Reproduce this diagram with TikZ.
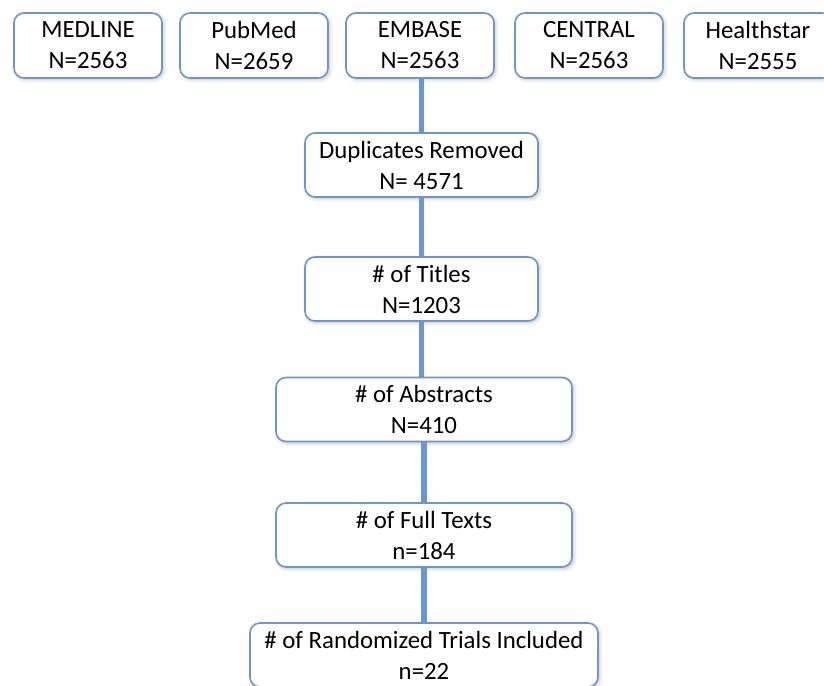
\documentclass[tikz,border=0pt]{standalone}
\usepackage{fontspec}
\setmainfont{Carlito}
\usepackage{tikz}
\usetikzlibrary{shadows.blur}
\definecolor{boxblue}{RGB}{110,150,200}
\definecolor{linkblue}{RGB}{104,152,208}
\tikzset{
  srcbox/.style={rectangle,rounded corners=5pt,draw=boxblue,line width=0.8pt,fill=white,
    minimum width=74pt,minimum height=32.5pt,align=center,inner sep=1pt,font=\fontsize{12.4}{15.5}\selectfont,
    blur shadow={shadow xshift=0.8pt,shadow yshift=-0.8pt,shadow blur steps=4,shadow opacity=25}},
  stepbox/.style={srcbox,minimum height=32pt},
  link/.style={line width=2.6pt,draw=linkblue}
}
\begin{document}
\begin{tikzpicture}[x=0.5pt,y=-0.5pt]
  \useasboundingbox (0,0) rectangle (824,685);
  \clip (0,0) rectangle (824,685);

  % databases
  \node[srcbox] (medline) at (88,45.5) {MEDLINE\\N=2563};
  \node[srcbox] (pubmed) at (254,45.5) {PubMed\\N=2659};
  \node[srcbox] (embase) at (420,45.5) {EMBASE\\N=2563};
  \node[srcbox] (central) at (589,45.5) {CENTRAL\\N=2563};
  \node[srcbox] (health) at (758,45.5) {Healthstar\\N=2555};

  % screening steps
  \node[stepbox,minimum width=116.5pt] (dups) at (421.5,165) {Duplicates Removed\\N= 4571};
  \node[stepbox,minimum width=116.5pt] (titles) at (421.5,289) {\# of Titles\\N=1203};
  \node[stepbox,minimum width=148pt] (abstr) at (424,409.5) {\# of Abstracts\\N=410};
  \node[stepbox,minimum width=148pt] (full) at (424,535) {\# of Full Texts\\n=184};
  \node[stepbox,minimum width=174pt] (incl) at (424,655) {\# of Randomized Trials Included\\n=22};

  \draw[link] (embase.south -| dups.north) -- (dups.north);
  \draw[link] (dups) -- (titles);
  \draw[link] (titles) -- (titles |- abstr.north);
  \draw[link] (abstr) -- (full);
  \draw[link] (full) -- (incl);
\end{tikzpicture}
\end{document}
